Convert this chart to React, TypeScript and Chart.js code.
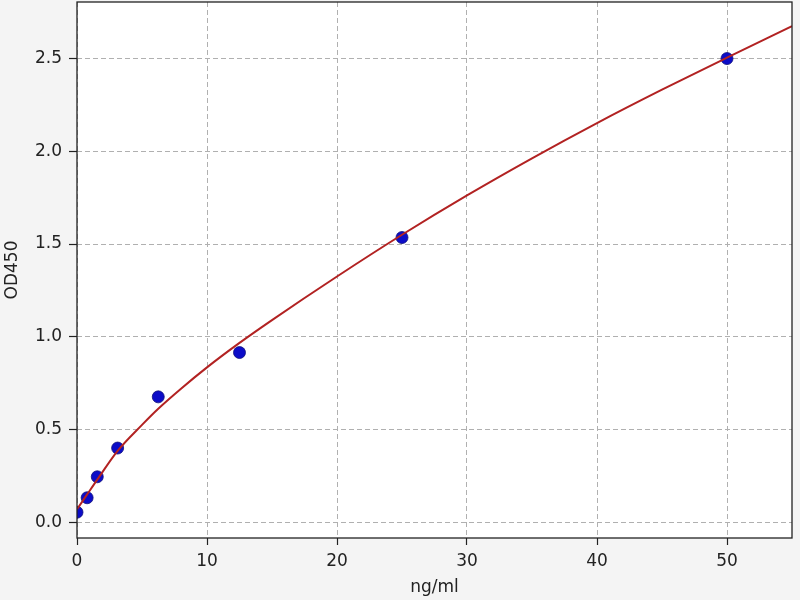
import React, { useRef, useEffect } from 'react';
import Chart from 'chart.js/auto';

// standards (ng/ml) and measured OD450
const stdConc = [0, 0.78, 1.56, 3.125, 6.25, 12.5, 25, 50];
const stdOD = [0.054, 0.132, 0.245, 0.4, 0.676, 0.915, 1.535, 2.5];

// fitted curve
const fitConc = [0, 0.78, 1.56, 3.125, 5, 6.25, 8, 10, 12.5, 15, 20, 25, 30, 35, 40, 45, 50, 55];
const fitOD = [0.07, 0.15, 0.23, 0.385, 0.525, 0.612, 0.72, 0.835, 0.967, 1.09, 1.325, 1.55, 1.762, 1.962, 2.152, 2.332, 2.505, 2.675];

const xTicks = [0, 10, 20, 30, 40, 50];
const yTicks = [0, 0.5, 1, 1.5, 2, 2.5];

const FONT = "'DejaVu Sans', sans-serif";
const GRID = '#b0b0b0';
const AXIS = '#222222';

const noPadding = () => ({ left: 0, top: 0, right: 0, bottom: 0 });

// grey figure, white axes, black frame
const frame = {
  id: 'frame',
  beforeDraw(chart: any) {
    const { ctx, chartArea: a, width, height } = chart;
    ctx.save();
    ctx.fillStyle = '#f4f4f4';
    ctx.fillRect(0, 0, width, height);
    ctx.fillStyle = '#ffffff';
    ctx.fillRect(a.left, a.top, a.right - a.left, a.bottom - a.top);
    ctx.restore();
  },
  afterDraw(chart: any) {
    const { ctx, chartArea: a } = chart;
    ctx.save();
    ctx.strokeStyle = AXIS;
    ctx.lineWidth = 1.3;
    ctx.strokeRect(a.left, a.top, a.right - a.left, a.bottom - a.top);
    ctx.restore();
  },
};

export default function App() {
  const ref = useRef<HTMLCanvasElement>(null);

  useEffect(() => {
    document.body.style.margin = '0';
    if (!ref.current) return;

    const chart = new Chart(ref.current, {
      type: 'scatter',
      data: {
        datasets: [
          {
            label: 'fit',
            data: fitConc.map((x, i) => ({ x, y: fitOD[i] })),
            showLine: true,
            borderColor: '#b22222',
            borderWidth: 2,
            pointRadius: 0,
            cubicInterpolationMode: 'monotone',
            order: 0,
          },
          {
            label: 'standards',
            data: stdConc.map((x, i) => ({ x, y: stdOD[i] })),
            backgroundColor: '#0c0cc8',
            borderColor: '#10107a',
            borderWidth: 0.8,
            pointRadius: 6,
            order: 1,
          },
        ],
      },
      options: {
        animation: false,
        responsive: false,
        devicePixelRatio: 1,
        layout: { autoPadding: false, padding: { left: 0, top: 2, right: 8, bottom: 0 } },
        plugins: { legend: { display: false }, tooltip: { enabled: false } },
        scales: {
          x: {
            type: 'linear',
            min: 0,
            max: 55,
            afterFit: (s: any) => { s.height = 62; s.getPadding = noPadding; },
            afterBuildTicks: (s: any) => { s.ticks = xTicks.map((v) => ({ value: v })); },
            ticks: { color: AXIS, font: { family: FONT, size: 17 }, padding: 6, maxRotation: 0 },
            grid: { color: GRID, lineWidth: 1, tickColor: AXIS, tickLength: 7, tickWidth: 1.2, tickBorderDash: [] },
            border: { display: false, dash: [5, 3] },
            title: { display: true, text: 'ng/ml', color: AXIS, font: { family: FONT, size: 17 }, padding: { top: 0, bottom: 2 } },
          },
          y: {
            type: 'linear',
            min: -0.085,
            max: 2.805,
            afterFit: (s: any) => { s.width = 77; s.getPadding = noPadding; },
            afterBuildTicks: (s: any) => { s.ticks = yTicks.map((v) => ({ value: v })); },
            ticks: {
              color: AXIS,
              font: { family: FONT, size: 17 },
              padding: 7,
              callback: (v: any) => Number(v).toFixed(1),
            },
            grid: { color: GRID, lineWidth: 1, tickColor: AXIS, tickLength: 8, tickWidth: 1.2, tickBorderDash: [] },
            border: { display: false, dash: [5, 3] },
            title: { display: true, text: 'OD450', color: AXIS, font: { family: FONT, size: 17 }, padding: { top: 2, bottom: 0 } },
          },
        },
      },
      plugins: [frame],
    });

    return () => chart.destroy();
  }, []);

  return (
    <div style={{ width: 800, height: 600 }}>
      <canvas ref={ref} width={800} height={600} style={{ width: 800, height: 600, display: 'block' }} />
    </div>
  );
}
